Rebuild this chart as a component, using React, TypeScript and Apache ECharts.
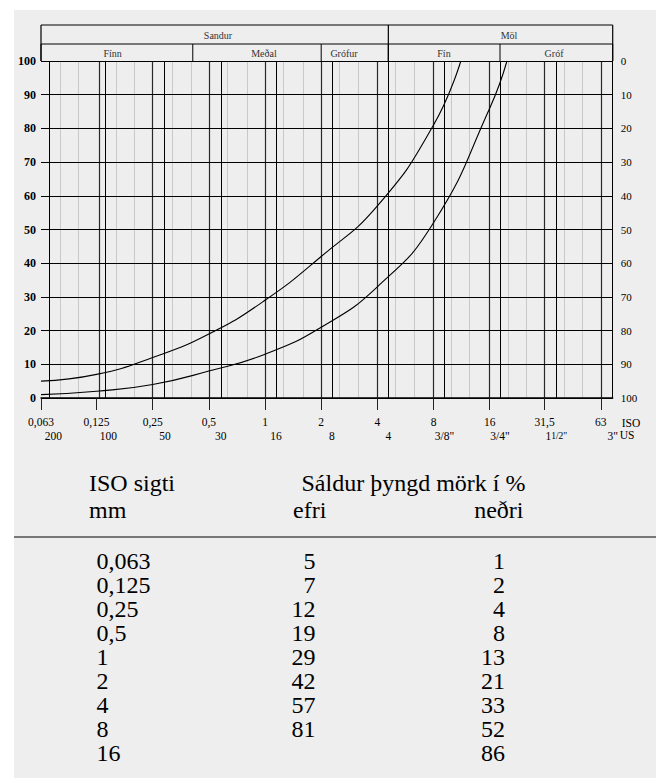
import React, { useEffect, useRef } from "react";
import * as echarts from "echarts";

// ---------- data ----------
const X_MIN = 0.063;
const X_MAX = 73; // 3" sieve at the right frame

const ISO_TICKS = [0.063, 0.125, 0.25, 0.5, 1, 2, 4, 8, 16, 31.5, 63];
const ISO_LABELS = ["0,063", "0,125", "0,25", "0,5", "1", "2", "4", "8", "16", "31,5", "63"];

const US_SIEVES = [0.0733, 0.1445, 0.291, 0.579, 1.145, 2.28, 4.58, 9.16, 18.17, 36.4, 73];
const US_LABELS = ["200", "100", "50", "30", "16", "8", "4", '3/8"', '3/4"', '1{s|1/2"}', '3"'];

const MINOR_LINES = [0.08, 0.1, 0.16, 0.2, 0.315, 0.4, 0.63, 0.8, 1.25, 1.6, 2.5, 3.15, 5, 6.3, 10, 12.5, 20, 25, 40, 50];

const TOP_NAMES = ["Sandur", "Möl"];
const TOP_BOUNDS = [0.063, 4.58, 73];
const TOP_LABEL_AT = [0.56, 20.3];

const SUB_NAMES = ["Fínn", "Meðal", "Grófur", "Fín", "Gróf"];
const SUB_BOUNDS = [0.063, 0.41, 2, 4.58, 18.17, 73];
const SUB_LABEL_AT = [0.1525, 0.987, 2.65, 9.1, 35.4];

const SIEVE_MM = [0.063, 0.125, 0.25, 0.5, 1, 2, 4, 8, 16];
const SIEVE_LABELS = ["0,063", "0,125", "0,25", "0,5", "1", "2", "4", "8", "16"];
const EFRI: (number | null)[] = [5, 7, 12, 19, 29, 42, 57, 81, null];
const NEDRI = [1, 2, 4, 8, 13, 21, 33, 52, 86];
const EFRI_END_MM = 11.2; // where upper curve reaches 100 %
const NEDRI_END_MM = 19.8; // where lower curve reaches 100 %

const SERIF = '"Liberation Serif", "Times New Roman", serif';

function nearestLabel(v: number, vals: number[], labels: string[]) {
  let best = 0;
  let bd = Infinity;
  for (let i = 0; i < vals.length; i++) {
    const d = Math.abs(Math.log(v) - Math.log(vals[i]));
    if (d < bd) {
      bd = d;
      best = i;
    }
  }
  return labels[best];
}

function txt(x: number, y: number, text: string, size: number, align: string, extra: any = {}) {
  return {
    type: "text",
    x,
    y,
    z: 20,
    silent: true,
    style: {
      text,
      fill: extra.fill || "#000",
      fontSize: size,
      fontFamily: SERIF,
      fontWeight: extra.fontWeight || "normal",
      align,
      textAlign: align,
      verticalAlign: "middle",
      textVerticalAlign: "middle",
    },
  };
}

function ln(x1: number, y1: number, x2: number, y2: number, stroke = "#000", lineWidth = 1) {
  return {
    type: "line",
    z: 20,
    silent: true,
    shape: { x1, y1, x2, y2 },
    style: { stroke, lineWidth },
  };
}

export default function App() {
  const ref = useRef<HTMLDivElement>(null);

  useEffect(() => {
    if (!ref.current) return;
    const chart = echarts.init(ref.current, null, { renderer: "svg", width: 664, height: 778 });

    const upperData: number[][] = [];
    SIEVE_MM.forEach((x, i) => {
      const v = EFRI[i];
      if (v != null) upperData.push([x, v]);
    });
    upperData.push([EFRI_END_MM, 100]);
    const lowerData: number[][] = SIEVE_MM.map((x, i) => [x, NEDRI[i]]);
    lowerData.push([NEDRI_END_MM, 100]);

    const gridLines = [
      ...MINOR_LINES.map((v) => ({ xAxis: v, lineStyle: { color: "#c8c8c8", width: 1, type: "solid" } })),
      ...ISO_TICKS.map((v) => ({ xAxis: v, lineStyle: { color: "#2a2a2a", width: 1.2, type: "solid" } })),
      ...US_SIEVES.map((v) => ({ xAxis: v, lineStyle: { color: "#000", width: 1, type: "solid" } })),
    ];

    const option: any = {
      animation: false,
      backgroundColor: "#eeeeee",
      grid: {
        left: 41,
        top: 61,
        width: 571.7,
        height: 337,
        containLabel: false,
        outerBoundsMode: "none",
      },
      xAxis: [
        {
          type: "log",
          logBase: 10,
          min: X_MIN,
          max: X_MAX,
          position: "bottom",
          axisLine: { show: true, onZero: false, lineStyle: { color: "#000", width: 1.5 } },
          axisTick: {
            show: true,
            customValues: ISO_TICKS,
            length: 12,
            lineStyle: { color: "#222", width: 1 },
          },
          axisLabel: {
            show: true,
            customValues: ISO_TICKS,
            margin: 18,
            color: "#000",
            fontSize: 11.5,
            fontFamily: SERIF,
            formatter: (v: number) => nearestLabel(v, ISO_TICKS, ISO_LABELS),
          },
          splitLine: { show: false },
          minorTick: { show: false },
          minorSplitLine: { show: false },
        },
        {
          type: "log",
          logBase: 10,
          min: X_MIN,
          max: X_MAX,
          gridIndex: 0,
          position: "bottom",
          axisLine: { show: false, onZero: false },
          axisTick: { show: false, customValues: US_SIEVES },
          axisLabel: {
            show: true,
            customValues: US_SIEVES,
            margin: 32,
            color: "#000",
            fontSize: 11.5,
            fontFamily: SERIF,
            formatter: (v: number) => nearestLabel(v, US_SIEVES, US_LABELS),
            rich: {
              s: { fontSize: 9.5, fontFamily: SERIF, color: "#000" },
            },
          },
          splitLine: { show: false },
        },
      ],
      yAxis: [
        {
          type: "value",
          min: 0,
          max: 100,
          interval: 10,
          position: "left",
          axisLine: { show: false },
          axisTick: { show: false },
          axisLabel: {
            margin: 5,
            color: "#000",
            fontWeight: "bold",
            fontSize: 12,
            fontFamily: SERIF,
          },
          splitLine: { show: true, lineStyle: { color: "#000", width: 1 } },
        },
        {
          type: "value",
          min: 0,
          max: 100,
          interval: 10,
          inverse: true,
          position: "right",
          axisLine: { show: false },
          axisTick: { show: false },
          axisLabel: {
            margin: 8,
            color: "#000",
            fontSize: 11,
            fontFamily: SERIF,
          },
          splitLine: { show: false },
        },
      ],
      series: [
        {
          type: "line",
          data: [],
          xAxisIndex: 0,
          yAxisIndex: 0,
          silent: true,
          markLine: {
            z: -1,
            silent: true,
            symbol: ["none", "none"],
            label: { show: false },
            lineStyle: { type: "solid" },
            emphasis: { disabled: true },
            data: gridLines,
          },
        },
        {
          name: "efri",
          type: "line",
          data: upperData,
          xAxisIndex: 0,
          yAxisIndex: 0,
          showSymbol: false,
          symbol: "none",
          smooth: 0.5,
          silent: true,
          z: 5,
          lineStyle: { color: "#000", width: 1.1 },
        },
        {
          name: "neðri",
          type: "line",
          data: lowerData,
          xAxisIndex: 0,
          yAxisIndex: 0,
          showSymbol: false,
          symbol: "none",
          smooth: 0.5,
          silent: true,
          z: 5,
          lineStyle: { color: "#000", width: 1.1 },
        },
      ],
    };

    chart.setOption(option);

    const px = (v: number) => chart.convertToPixel({ xAxisIndex: 0 }, v) as number;
    const py = (v: number) => chart.convertToPixel({ yAxisIndex: 0 }, v) as number;
    const yTop = py(100);
    const yBot = py(0);
    const hdrTop = yTop - 36;
    const hdrMid = yTop - 17;
    const xL = px(X_MIN);
    const xR = px(X_MAX);

    const g: any[] = [];
    // white margins outside the grey panel
    g.push({ type: "rect", z: 30, silent: true, shape: { x: 0, y: 0, width: 664, height: 10 }, style: { fill: "#fff" } });
    g.push({ type: "rect", z: 30, silent: true, shape: { x: 0, y: 0, width: 14, height: 778 }, style: { fill: "#fff" } });
    g.push({ type: "rect", z: 30, silent: true, shape: { x: 656, y: 0, width: 8, height: 778 }, style: { fill: "#fff" } });

    // header box
    g.push(ln(xL, hdrTop, xR, hdrTop, "#000", 1.2));
    g.push(ln(xL, hdrMid, xR, hdrMid, "#000", 1));
    TOP_BOUNDS.forEach((b) => g.push(ln(px(b), hdrTop, px(b), yTop, "#000", 1.2)));
    SUB_BOUNDS.forEach((b) => g.push(ln(px(b), hdrMid, px(b), yTop, "#000", 1)));
    TOP_NAMES.forEach((n, i) => g.push(txt(px(TOP_LABEL_AT[i]), (hdrTop + hdrMid) / 2 + 0.5, n, 10, "center", { fill: "#333" })));
    SUB_NAMES.forEach((n, i) => g.push(txt(px(SUB_LABEL_AT[i]), (hdrMid + yTop) / 2 + 0.5, n, 10, "center", { fill: "#333" })));

    // axis names
    g.push(txt(xR + 9, yBot + 24.5, "ISO", 11.5, "left"));
    g.push(txt(xR + 7, yBot + 36.5, "US", 11.5, "left"));

    // table
    g.push(txt(89, 482.5, "ISO sigti", 24, "left"));
    g.push(txt(301.5, 482.5, "Sáldur þyngd mörk í %", 24, "left"));
    g.push(txt(89, 509.5, "mm", 24, "left"));
    g.push(txt(293, 509.5, "efri", 24, "left"));
    g.push(txt(523.5, 509.5, "neðri", 24, "right"));
    g.push(ln(14, 537, 656, 537, "#777", 2));
    SIEVE_LABELS.forEach((s, i) => {
      const y = 561 + i * 24.05;
      g.push(txt(96.5, y, s, 24, "left"));
      const e = EFRI[i];
      if (e != null) g.push(txt(315.5, y, String(e), 24, "right"));
      g.push(txt(505, y, String(NEDRI[i]), 24, "right"));
    });

    chart.setOption({ graphic: { elements: g } });

    return () => chart.dispose();
  }, []);

  return (
    <div
      ref={ref}
      style={{ position: "absolute", left: 0, top: 0, width: 664, height: 778, background: "#fff" }}
    />
  );
}
